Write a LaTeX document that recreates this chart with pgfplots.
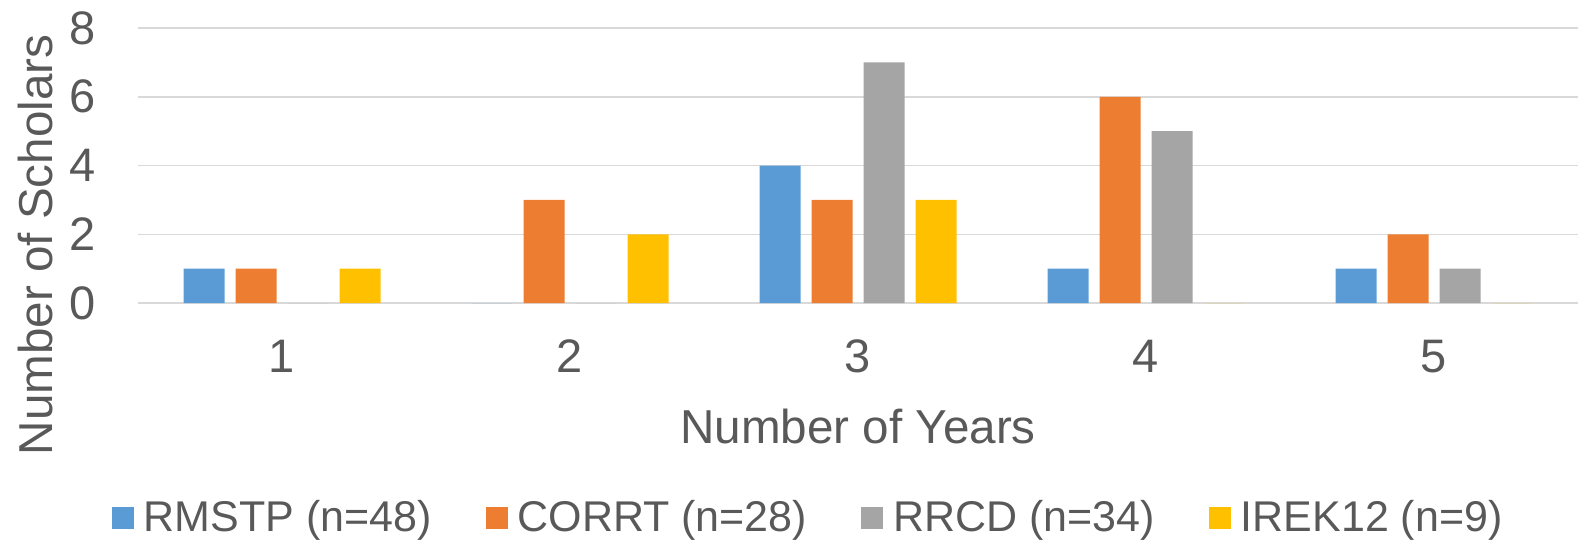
\documentclass[border=0pt]{standalone}
\usepackage{pgfplots}
\pgfplotsset{compat=1.18}
\usepackage{fontspec}
\setmainfont{Liberation Sans}
\definecolor{cblue}{HTML}{5B9BD5}
\definecolor{corange}{HTML}{ED7D31}
\definecolor{cgray}{HTML}{A5A5A5}
\definecolor{cyellow}{HTML}{FFC000}
\definecolor{ctext}{HTML}{595959}
\definecolor{cgrid}{HTML}{D9D9D9}
\begin{document}
\begin{tikzpicture}
\begin{axis}[
  scale only axis,
  width=720pt, height=137.5pt,
  xmin=0.5, xmax=5.5, ymin=0, ymax=8,
  ytick={0,2,4,6,8},
  xtick={1,2,3,4,5},
  ybar=5.5pt, bar width=20.5pt,
  axis line style={draw=none},
  major tick length=0pt,
  ymajorgrids, grid style={cgrid, line width=0.75pt},
  /pgf/number format/assume math mode=true,
  tick label style={font=\fontsize{23.5}{26}\selectfont, text=ctext},
  xticklabel style={yshift=-15pt},
  yticklabel style={xshift=-17.5pt},
  xlabel={Number of Years},
  ylabel={Number of Scholars},
  label style={font=\fontsize{23.8}{26}\selectfont, text=ctext},
  xlabel style={at={(axis description cs:0.5,-0.45)}, anchor=center},
  ylabel style={at={(axis description cs:-0.0714,0.211)}, anchor=center, rotate=0},
  legend columns=4,
  legend style={draw=none, fill=none, at={(axis description cs:0.466,-0.78)}, anchor=center,
    font=\fontsize{21.5}{24}\selectfont, text=ctext,
    /tikz/every odd column/.append style={column sep=3pt},
    /tikz/every even column/.append style={column sep=25pt}},
  legend image code/.code={\fill[#1] (0pt,-5.5pt) rectangle (11pt,5.5pt);},
  clip=false,
]
\addplot[fill=cblue, draw=none] coordinates {(1,1) (2,0) (3,4) (4,1) (5,1)};
\addplot[fill=corange, draw=none] coordinates {(1,1) (2,3) (3,3) (4,6) (5,2)};
\addplot[fill=cgray, draw=none] coordinates {(1,0) (2,0) (3,7) (4,5) (5,1)};
\addplot[fill=cyellow, draw=none] coordinates {(1,1) (2,2) (3,3) (4,0) (5,0)};
\legend{RMSTP (n=48), CORRT (n=28), RRCD (n=34), IREK12 (n=9)}
\coordinate (bl) at (rel axis cs:0,0);
\coordinate (tr) at (rel axis cs:1,1);
\end{axis}
\pgfresetboundingbox
\path[use as bounding box] ([xshift=-69pt,yshift=-119pt]bl) rectangle ([xshift=1pt,yshift=14pt]tr);
\end{tikzpicture}
\end{document}
